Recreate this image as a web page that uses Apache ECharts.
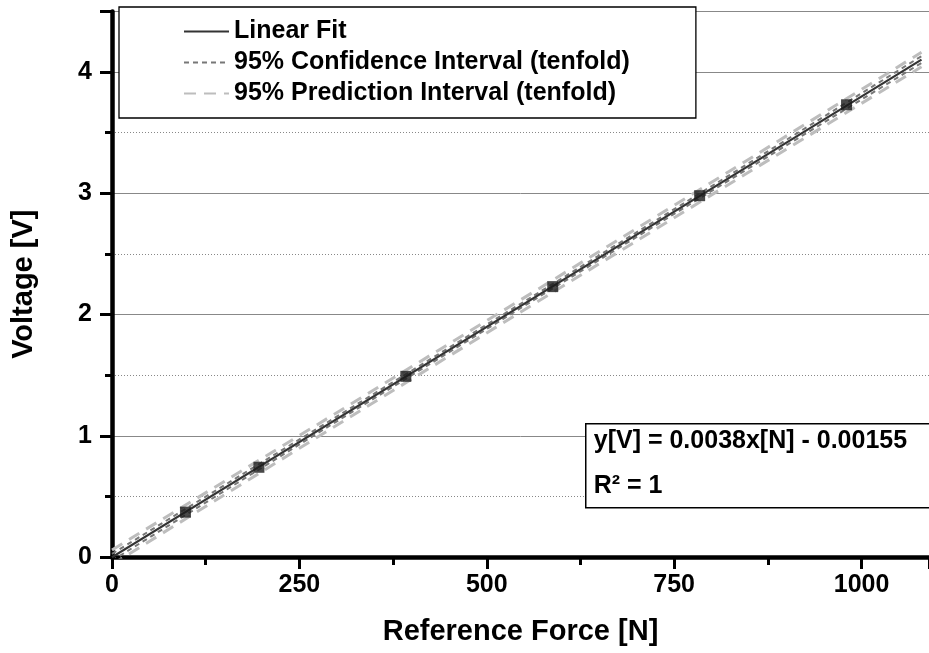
<!DOCTYPE html>
<html>
<head>
<meta charset="utf-8">
<script src="https://cdn.jsdelivr.net/npm/echarts@6/dist/echarts.min.js"></script>
<style>html,body{margin:0;padding:0;background:#fff}#c{width:929px;height:653px}</style>
</head>
<body>
<div id="c"></div>
<script>
// Measured points
var forceN = [98, 196, 392, 588, 784, 980];
var voltageV = [0.37, 0.74, 1.49, 2.23, 2.98, 3.73];
// Linear fit line endpoints
var fitX = [0, 1080];
var fitY = [-0.0016, 4.1025];
// Band sample positions and read-off values (tenfold intervals)
var bandX = [0, 270, 540, 810, 1080];
var ciUpper = [0.026, 1.045, 2.069, 3.097, 4.131];
var ciLower = [-0.030, 1.005, 2.033, 3.057, 4.075];
var piUpper = [0.058, 1.077, 2.101, 3.129, 4.163];
var piLower = [-0.062, 0.973, 2.001, 3.025, 4.043];
var legendNames = ['Linear Fit', '95% Confidence Interval (tenfold)', '95% Prediction Interval (tenfold)'];
var eqText = 'y[V] = 0.0038x[N] - 0.00155';
var r2Text = 'R² = 1';

function pairs(xs, ys){ return xs.map(function(x,i){return [x, ys[i]];}); }

var FONT = 'Liberation Sans, Arial, sans-serif';
var chart = echarts.init(document.getElementById('c'), null, {renderer:'canvas'});
var ciStyle = {color:'#777', width:2, type:[5,4]};
var piStyle = {color:'#bdbdbd', width:3, type:[12,8]};
chart.setOption({
  animation:false,
  backgroundColor:'#fff',
  grid:{left:112, top:11.4, right:0, bottom:96, containLabel:false, outerBoundsMode:'none'},
  legend:{
    data:legendNames,
    orient:'vertical', left:119, top:7,
    itemWidth:45, itemHeight:14, itemGap:6, itemTextGap:7,
    padding:[12, 66, 12, 64],
    borderColor:'#000', borderWidth:1.3, backgroundColor:'#fff',
    itemStyle:{opacity:0},
    textStyle:{fontFamily:FONT, fontWeight:'bold', fontSize:25, color:'#000'},
    selectedMode:false
  },
  xAxis:{
    type:'value', min:0, max:1090, interval:250,
    name:'Reference Force [N]', nameLocation:'middle', nameGap:60,
    nameTextStyle:{fontFamily:FONT, fontWeight:'bold', fontSize:29, color:'#000'},
    axisLine:{lineStyle:{color:'#000', width:4.5}},
    axisTick:{show:true, length:12, lineStyle:{color:'#000', width:3}},
    minorTick:{show:true, splitNumber:2, length:8, lineStyle:{color:'#000', width:3}},
    axisLabel:{fontFamily:FONT, fontWeight:'bold', fontSize:25, color:'#000', margin:16,
      formatter:function(v){ return v % 250 === 0 ? String(v) : ''; }},
    splitLine:{show:false}
  },
  yAxis:{
    type:'value', min:0, max:4.5, interval:1,
    name:'Voltage [V]', nameLocation:'middle', nameGap:74,
    nameTextStyle:{fontFamily:FONT, fontWeight:'bold', fontSize:29, color:'#000'},
    axisLine:{show:true, lineStyle:{color:'#000', width:4.5}},
    axisTick:{show:true, length:12, lineStyle:{color:'#000', width:3}},
    minorTick:{show:true, splitNumber:2, length:7, lineStyle:{color:'#000', width:3}},
    axisLabel:{fontFamily:FONT, fontWeight:'bold', fontSize:25, color:'#000', margin:20,
      formatter:function(v){ return Math.abs(v - Math.round(v)) < 1e-9 ? String(Math.round(v)) : ''; }},
    splitLine:{show:true, lineStyle:{color:'#888', width:1}},
    minorSplitLine:{show:true, lineStyle:{color:'#888', width:1, type:[1,2]}}
  },
  series:[
    {name:legendNames[2], type:'line', data:pairs(bandX, piUpper), showSymbol:false, symbol:'none', lineStyle:piStyle, itemStyle:{color:'#bdbdbd'}, z:2},
    {name:legendNames[2], type:'line', data:pairs(bandX, piLower), showSymbol:false, symbol:'none', lineStyle:piStyle, itemStyle:{color:'#bdbdbd'}, z:2},
    {name:legendNames[1], type:'line', data:pairs(bandX, ciUpper), showSymbol:false, symbol:'none', lineStyle:ciStyle, itemStyle:{color:'#777'}, z:3},
    {name:legendNames[1], type:'line', data:pairs(bandX, ciLower), showSymbol:false, symbol:'none', lineStyle:ciStyle, itemStyle:{color:'#777'}, z:3},
    {name:legendNames[0], type:'line', data:pairs(fitX, fitY), showSymbol:false, symbol:'none', lineStyle:{color:'#333', width:2.2}, itemStyle:{color:'#333'}, z:4},
    {name:'Data', type:'scatter', data:pairs(forceN, voltageV), symbol:'rect', symbolSize:11, itemStyle:{color:'#1a1a1a'}, z:5}
  ],
  graphic:[
    {type:'group', left:585, top:423, z:100, children:[
      {type:'rect', z:100, shape:{x:0, y:0, width:360, height:84}, style:{fill:'#fff', stroke:'#000', lineWidth:1.5}},
      {type:'text', z:101, x:8, y:5, style:{text:eqText, font:'bold 25px '+FONT, fill:'#000', verticalAlign:'top'}},
      {type:'text', z:101, x:8, y:50, style:{text:r2Text, font:'bold 25px '+FONT, fill:'#000', verticalAlign:'top'}}
    ]}
  ]
});
</script>
</body>
</html>
